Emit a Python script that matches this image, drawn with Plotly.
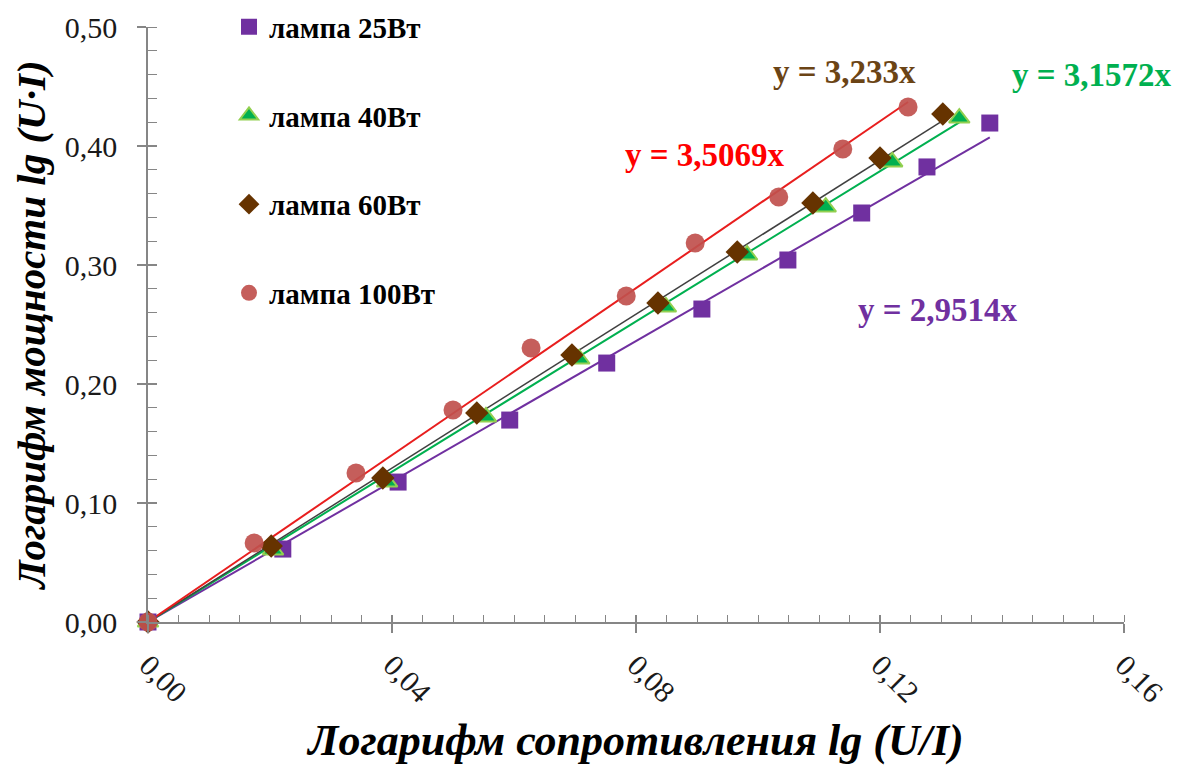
import plotly.graph_objects as go

# ---- data ----
names = ["лампа 25Вт", "лампа 40Вт", "лампа 60Вт", "лампа 100Вт"]

x_25 = [0, 0.0221, 0.0410, 0.0593, 0.0752, 0.0908, 0.1049, 0.1170, 0.1277, 0.1380]
y_25 = [0, 0.0613, 0.1176, 0.1697, 0.2176, 0.2630, 0.3042, 0.3437, 0.3824, 0.4193]

x_40 = [0, 0.0205, 0.0392, 0.0554, 0.0707, 0.0849, 0.0982, 0.1111, 0.1220, 0.1330]
y_40 = [0, 0.0605, 0.1176, 0.1723, 0.2210, 0.2647, 0.3084, 0.3487, 0.3866, 0.4235]

x_60 = [0, 0.0202, 0.0385, 0.0539, 0.0695, 0.0836, 0.0966, 0.1090, 0.1200, 0.1303]
y_60 = [0, 0.0639, 0.1210, 0.1756, 0.2244, 0.2681, 0.3109, 0.3521, 0.3899, 0.4269]

x_100 = [0, 0.0174, 0.0341, 0.0500, 0.0628, 0.0784, 0.0897, 0.1034, 0.1139, 0.1246]
y_100 = [0, 0.0664, 0.1252, 0.1782, 0.2303, 0.2739, 0.3185, 0.3571, 0.3975, 0.4328]

slopes = [2.9514, 3.1572, 3.233, 3.5069]
eq_labels = ["y = 2,9514x", "y = 3,1572x", "y = 3,233x", "y = 3,5069x"]

x_ticks = [0, 0.04, 0.08, 0.12, 0.16]
y_ticks = [0, 0.1, 0.2, 0.3, 0.4, 0.5]

# ---- styles ----
SERIF = "Liberation Serif, Times New Roman, serif"
xs = [x_25, x_40, x_60, x_100]
ys = [y_25, y_40, y_60, y_100]
marker_styles = [
    dict(symbol="square", size=17, color="#7030A0", line=dict(width=0)),
    dict(symbol="triangle-up", size=18, color="#00B050", line=dict(width=2, color="#92D050")),
    dict(symbol="diamond", size=18, color="#663300", line=dict(width=0)),
    dict(symbol="circle", size=19, color="rgba(192,80,77,0.92)", line=dict(width=0)),
]
line_colors = ["#7030A0", "#00B050", "#404040", "#E81E1E"]
line_widths = [2, 2, 1.5, 2]
eq_colors = ["#7030A0", "#00B050", "#6B4415", "#FF0000"]
eq_pos = [(0.809, 0.524), (0.967, 0.919), (0.714, 0.924), (0.571, 0.785)]

fig = go.Figure()

# trendlines y = k*x over each series' range
for i in range(4):
    xmax = max(xs[i])
    fig.add_trace(go.Scatter(
        x=[0, xmax], y=[0, slopes[i] * xmax], mode="lines",
        line=dict(color=line_colors[i], width=line_widths[i]),
        showlegend=False, hoverinfo="skip", cliponaxis=False,
    ))

# markers
for i in range(4):
    fig.add_trace(go.Scatter(
        x=xs[i], y=ys[i], mode="markers", name=f"<b>{names[i]}</b>",
        marker=marker_styles[i], legendgroup=f"g{i}",
        cliponaxis=False,
    ))

# empty trace on overlay axes (for inward half of the crossing major ticks)
fig.add_trace(go.Scatter(x=[None], y=[None], xaxis="x2", yaxis="y2",
                         showlegend=False, hoverinfo="skip"))

for i in range(4):
    fig.add_annotation(
        x=eq_pos[i][0], y=eq_pos[i][1], xref="paper", yref="paper",
        xanchor="center", yanchor="middle",
        text=f"<b>{eq_labels[i]}</b>", showarrow=False,
        font=dict(family=SERIF, size=33, color=eq_colors[i]),
    )

axis_common = dict(
    showline=True, linecolor="#868686", linewidth=1.5,
    ticks="outside", ticklen=9, tickcolor="#868686", tickwidth=1.5,
    showgrid=False, zeroline=False,
    tickfont=dict(family=SERIF, size=30, color="#1a1a1a"),
    tickformat=".2f", automargin=False,
)

fig.update_layout(
    xaxis=dict(
        **axis_common, range=[0, 0.16], tickvals=x_ticks, tickangle=45,
        ticklabelstandoff=3,
        minor=dict(ticks="inside", ticklen=7, dtick=0.005, tickcolor="#868686", tickwidth=1.2),
        title=dict(text="<b><i>Логарифм сопротивления lg (U/I)</i></b>",
                   font=dict(family=SERIF, size=44, color="#000000"), standoff=16),
    ),
    yaxis=dict(
        **axis_common, range=[0, 0.5], tickvals=y_ticks,
        ticklabelstandoff=14,
        minor=dict(ticks="inside", ticklen=9, dtick=0.02, tickcolor="#868686", tickwidth=1.2),
        title=dict(text="<b><i>Логарифм мощности lg (U·I)</i></b>",
                   font=dict(family=SERIF, size=41, color="#000000"), standoff=6),
    ),
    xaxis2=dict(overlaying="x", range=[0, 0.16], tickvals=x_ticks, ticks="inside",
                ticklen=7, tickcolor="#868686", tickwidth=1.5, showticklabels=False,
                showline=False, showgrid=False, zeroline=False, automargin=False),
    yaxis2=dict(overlaying="y", side="left", range=[0, 0.5], tickvals=y_ticks, ticks="inside",
                ticklen=9, tickcolor="#868686", tickwidth=1.5, showticklabels=False,
                showline=False, showgrid=False, zeroline=False, automargin=False),
    width=1178, height=771,
    margin=dict(l=148, r=54, t=27, b=149, autoexpand=False),
    plot_bgcolor="white", paper_bgcolor="white",
    separators=", ",
    legend=dict(
        x=0.083, y=1.043, xanchor="left", yanchor="top",
        font=dict(family=SERIF, size=29, color="#000000"),
        tracegroupgap=48, bgcolor="rgba(0,0,0,0)",
        itemwidth=30,
    ),
    showlegend=True,
)

fig.write_html("out.html", config={"displayModeBar": False},
               post_script="document.body.style.margin='0px';")
